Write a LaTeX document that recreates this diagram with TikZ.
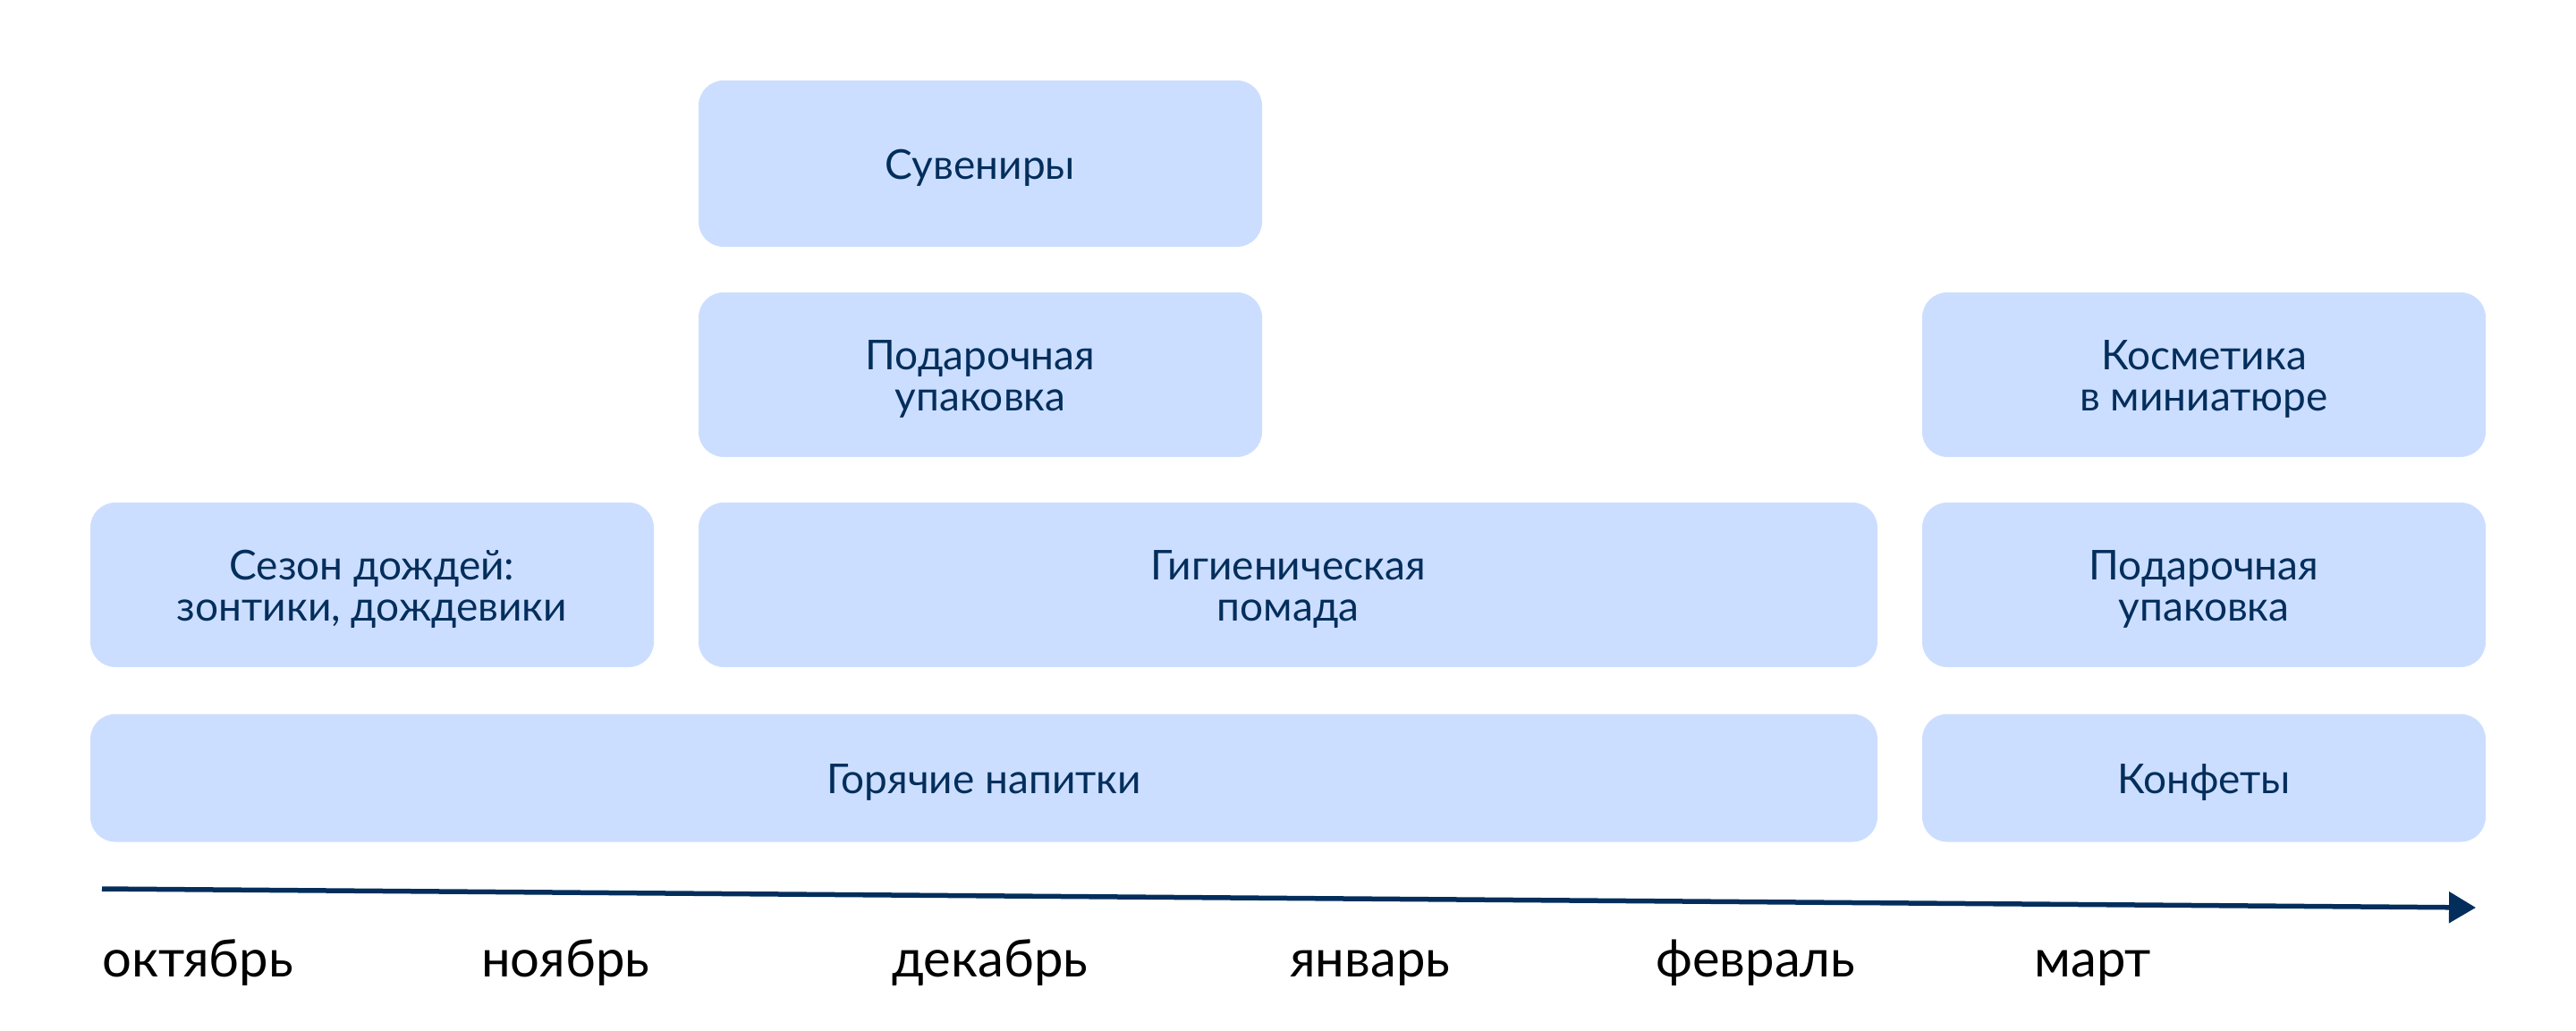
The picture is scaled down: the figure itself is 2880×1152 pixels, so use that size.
\documentclass[tikz,border=0pt]{standalone}
\usepackage{fontspec}
\setmainfont{Lato}
\usetikzlibrary{arrows.meta}
\definecolor{boxfill}{RGB}{204,222,255}
\definecolor{navy}{RGB}{3,46,92}
\tikzset{
  box/.style={fill=boxfill, rounded corners=28, inner sep=0pt},
  boxtext/.style={inner sep=0pt, text=navy, align=center,
    font=\fontsize{46}{46}\selectfont},
  month/.style={anchor=base west, inner sep=0pt, text=black, font=\fontsize{58}{58}\selectfont},
  axis/.style={draw=navy, line width=5.5pt, -{Triangle[length=30pt,width=34pt]}}
}
\begin{document}
\begin{tikzpicture}[x=1pt,y=-1pt]
\useasboundingbox (0,0) rectangle (2880,1152);
\node[box, minimum width=630, minimum height=186] (suv) at (1096,183) {};
\node[box, minimum width=630, minimum height=184] (pod1) at (1096,419) {};
\node[box, minimum width=630, minimum height=184] (kos) at (2464,419) {};
\node[box, minimum width=630, minimum height=184] (sez) at (416,654) {};
\node[box, minimum width=1318, minimum height=184] (gig) at (1440,654) {};
\node[box, minimum width=630, minimum height=184] (pod2) at (2464,654) {};
\node[box, minimum width=1998, minimum height=143] (gor) at (1100,870) {};
\node[box, minimum width=630, minimum height=143] (kon) at (2464,870) {};
\node[boxtext] (suvt) at ([yshift=-5pt]suv.center) {Сувениры};
\node[boxtext] (pod1t) at ([yshift=-5pt]pod1.center) {Подарочная\\упаковка};
\node[boxtext] (kost) at ([yshift=-5pt]kos.center) {Косметика\\в миниатюре};
\node[boxtext] (sezt) at ([yshift=-5pt]sez.center) {Сезон дождей:\\зонтики, дождевики};
\node[boxtext] (gigt) at ([yshift=-5pt]gig.center) {Гигиеническая\\помада};
\node[boxtext] (pod2t) at ([yshift=-5pt]pod2.center) {Подарочная\\упаковка};
\node[boxtext] (gort) at ([yshift=-5pt]gor.center) {Горячие напитки};
\node[boxtext] (kont) at ([yshift=-5pt]kon.center) {Конфеты};
\coordinate (a0) at (114,994);
\coordinate (a1) at (2768,1015);
\draw[axis] (a0) -- (a1);
\node[month] (m1) at (114,1092) {октябрь};
\node[month] (m2) at (538,1092) {ноябрь};
\node[month] (m3) at (997,1092) {декабрь};
\node[month] (m4) at (1442,1092) {январь};
\node[month] (m5) at (1851,1092) {февраль};
\node[month] (m6) at (2274,1092) {март};
\end{tikzpicture}
\end{document}
